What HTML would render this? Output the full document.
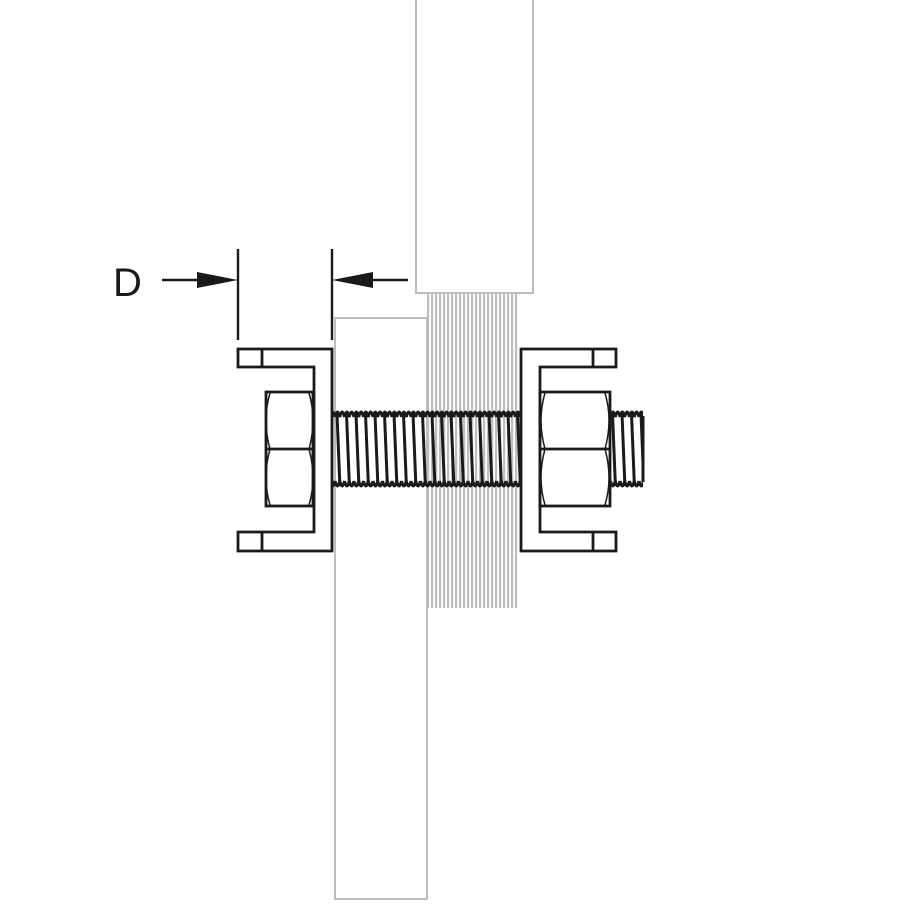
<!DOCTYPE html>
<html><head><style>html,body{margin:0;padding:0;background:#fff}</style></head><body>
<svg width="900" height="900" viewBox="0 0 900 900" xmlns="http://www.w3.org/2000/svg">
<defs>
<pattern id="stripes" x="427" y="0" width="4" height="10" patternUnits="userSpaceOnUse">
<rect x="0" y="0" width="2.2" height="10" fill="#bebebe"/>
</pattern>
<pattern id="thread" x="335" y="414" width="9.5" height="74" patternUnits="userSpaceOnUse">
<line x1="2" y1="0" x2="5" y2="74" stroke="#1a1a1a" stroke-width="3"/>
</pattern>
<pattern id="crest" x="335" y="0" width="9.5" height="900" patternUnits="userSpaceOnUse">
<path d="M0 417 Q2.4 407 4.75 417 Q7.1 407 9.5 417" fill="none" stroke="#1a1a1a" stroke-width="3"/>
<path d="M0 481 Q2.4 491 4.75 481 Q7.1 491 9.5 481" fill="none" stroke="#1a1a1a" stroke-width="3"/>
</pattern>
</defs>
<rect x="416" y="-2" width="117" height="295" fill="#fff" stroke="#bdbdbd" stroke-width="2"/>
<rect x="427" y="293" width="91" height="315" fill="url(#stripes)"/>
<rect x="335" y="318" width="92" height="581" fill="#fff" stroke="#bdbdbd" stroke-width="2"/>
<rect x="333" y="408" width="188" height="86" fill="url(#crest)"/>
<rect x="333" y="414" width="188" height="72" fill="url(#thread)"/>
<rect x="610" y="408" width="33" height="86" fill="url(#crest)"/>
<rect x="610" y="414" width="33" height="72" fill="url(#thread)"/>
<line x1="643" y1="416" x2="643" y2="482" stroke="#1a1a1a" stroke-width="3"/>
<g fill="none" stroke="#1a1a1a" stroke-width="2.8">
<path d="M332 349 H238 V367 H314 V532 H238 V551 H332 Z" fill="#fff"/>
<line x1="262" y1="349" x2="262" y2="367"/>
<line x1="262" y1="532" x2="262" y2="551"/>
<rect x="266" y="392" width="47" height="114" fill="#fff"/>
<line x1="266" y1="449" x2="313" y2="449"/>
<path d="M270 393 Q262 420 270 449 Q262 478 270 505" stroke-width="1.5"/>
<path d="M309 393 Q317 420 309 449 Q317 478 309 505" stroke-width="1.5"/>
<path d="M521 349 H616 V367 H540 V532 H616 V551 H521 Z" fill="#fff"/>
<line x1="593" y1="349" x2="593" y2="367"/>
<line x1="593" y1="532" x2="593" y2="551"/>
<rect x="540" y="392" width="70" height="114" fill="#fff"/>
<line x1="540" y1="449" x2="610" y2="449"/>
<path d="M545 393 Q537 420 545 449 Q537 478 545 505" stroke-width="1.5"/>
<path d="M605 393 Q613 420 605 449 Q613 478 605 505" stroke-width="1.5"/>
<line x1="238" y1="249" x2="238" y2="340" stroke-width="2.4"/>
<line x1="332" y1="249" x2="332" y2="340" stroke-width="2.4"/>
<line x1="162" y1="280" x2="200" y2="280" stroke-width="2.4"/>
<line x1="370" y1="280" x2="408" y2="280" stroke-width="2.4"/>
</g>
<polygon points="197,272 238,280 197,288" fill="#1a1a1a"/>
<polygon points="373,272 332,280 373,288" fill="#1a1a1a"/>
<text x="113" y="296" font-family="Liberation Sans, sans-serif" font-size="40" fill="#1a1a1a">D</text>
</svg>
</body></html>
